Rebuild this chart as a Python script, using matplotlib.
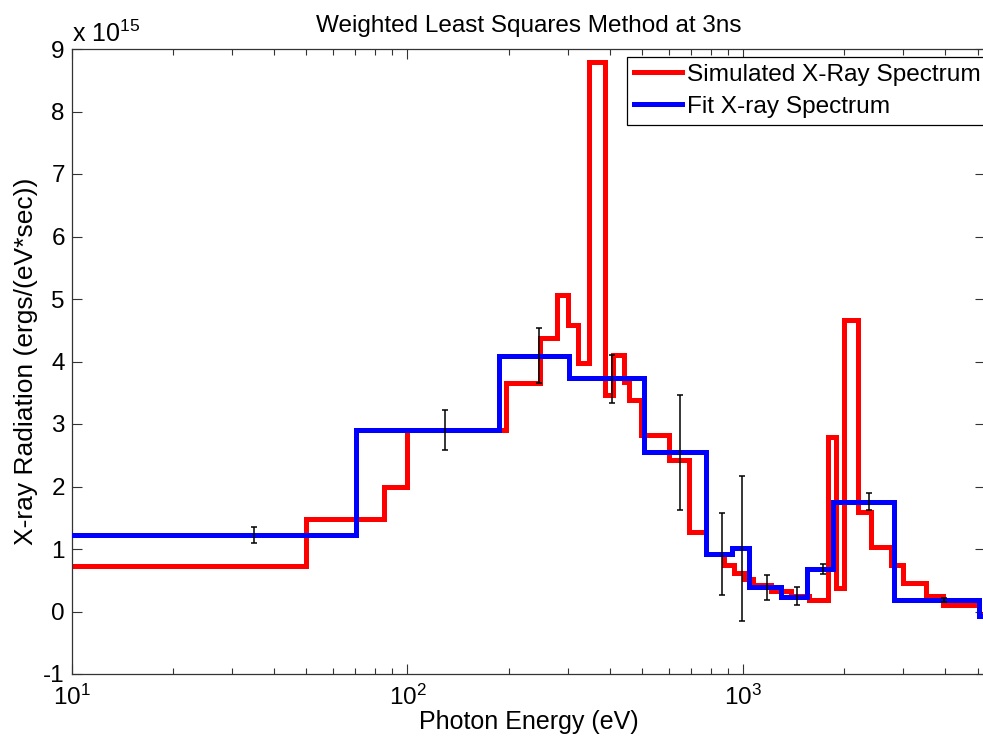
import numpy as np
import matplotlib
matplotlib.use("Agg")
import matplotlib.pyplot as plt

plt.rcParams['font.family'] = ['Liberation Sans', 'DejaVu Sans']
plt.rcParams['mathtext.fontset'] = 'custom'
plt.rcParams['mathtext.rm'] = 'Liberation Sans'
plt.rcParams['mathtext.it'] = 'Liberation Sans'
plt.rcParams['mathtext.bf'] = 'Liberation Sans'
plt.rcParams['axes.unicode_minus'] = False

# Simulated spectrum (step edges in eV, values in units of 1e15 ergs/(eV*sec))
sim_edges = [10, 50, 85, 100, 196, 249, 278, 300, 322, 347, 387, 409, 441, 456, 496,
             601, 690, 775, 877, 940, 1006, 1070, 1211, 1390, 1573, 1792, 1893, 2000,
             2202, 2407, 2762, 3000, 3513, 3948, 5022, 5500]
sim_values = [0.73, 1.48, 2.0, 2.9, 3.65, 4.37, 5.07, 4.59, 3.97, 8.8, 3.47, 4.1, 3.68,
              3.39, 2.83, 2.42, 1.27, 0.92, 0.75, 0.62, 0.52, 0.43, 0.33, 0.25, 0.18,
              2.8, 0.38, 4.67, 1.6, 1.03, 0.74, 0.46, 0.25, 0.1, -0.05]

# Fit spectrum
fit_edges = [10, 70.5, 187, 302, 506, 775, 927, 1041, 1297, 1551, 1854, 2820, 5022, 5500]
fit_values = [1.22, 2.91, 4.09, 3.73, 2.56, 0.92, 1.02, 0.39, 0.24, 0.68, 1.76, 0.19, -0.07]

# Error bars
err_energy = [35, 129, 247, 408, 647, 865, 993, 1180, 1442, 1726, 2366, 3970]
err_center = [1.22, 2.91, 4.09, 3.72, 2.55, 0.92, 1.01, 0.39, 0.25, 0.68, 1.76, 0.19]
err_size = [0.13, 0.32, 0.44, 0.39, 0.92, 0.65, 1.16, 0.20, 0.14, 0.08, 0.13, 0.03]

fig = plt.figure(figsize=(9.83, 7.44), dpi=100)
ax = fig.add_axes([71.7/983, 1-674/744, (985-71.7)/983, (674-49)/744])

ax.step(sim_edges, sim_values + [sim_values[-1]], where='post', color=(1, 0, 0),
        lw=3.6, solid_joinstyle='miter', label='Simulated X-Ray Spectrum', zorder=2)
ax.step(fit_edges, fit_values + [fit_values[-1]], where='post', color=(0, 0, 1),
        lw=3.6, solid_joinstyle='miter', label='Fit X-ray Spectrum', zorder=3)
ax.errorbar(err_energy, err_center, yerr=err_size, fmt='none', ecolor='black',
            elinewidth=1.1, capsize=2, capthick=1.1, zorder=4)

ax.set_xscale('log')
ax.set_xlim(10, 5250)
ax.set_ylim(-1, 9)
ax.set_yticks(range(-1, 10))

ax.tick_params(which='both', direction='in', top=True, right=True, labelsize=17.5,
               width=0.8, color='#333333')
ax.tick_params(which='major', length=7)
ax.tick_params(which='minor', length=4)
ax.tick_params(axis='x', pad=8)
ax.tick_params(axis='y', pad=5)
for s in ax.spines.values():
    s.set_linewidth(0.9)
    s.set_color('#333333')

ax.set_title('Weighted Least Squares Method at 3ns', fontsize=17.5, pad=12)
ax.set_xlabel('Photon Energy (eV)', fontsize=18, labelpad=0)
ax.set_ylabel('X-ray Radiation (ergs/(eV*sec))', fontsize=19, labelpad=4)

ax.text(0.0, 1.004, r'x 10$^{15}$', transform=ax.transAxes, fontsize=18,
        ha='left', va='bottom')

leg = ax.legend(loc='upper right', bbox_to_anchor=(1.003, 0.988), fontsize=17.6,
                fancybox=False, edgecolor='black', framealpha=1, handlelength=1.95,
                handletextpad=0.2, borderpad=0.3, labelspacing=0.4, borderaxespad=0.0)
leg.get_frame().set_linewidth(0.9)

fig.savefig('out.png', dpi=100)
